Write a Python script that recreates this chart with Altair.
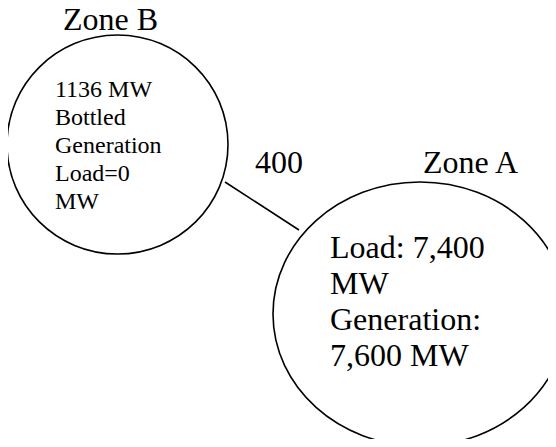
import altair as alt
import pandas as pd

# Zones (ellipse centres, in picture pixels)
zone_names = ["Zone B", "Zone A"]
zone_cx = [117.5, 420]
zone_cy = [144.5, 314]

# Big labels
label_text = ["Zone B", "Zone A", "400"]
label_x = [63, 423, 255]
label_y = [30, 173, 173]

# Zone B inner text
b_lines = ["1136 MW", "Bottled", "Generation", "Load=0", "MW"]
b_x = [55, 55, 55, 55, 55]
b_y = [97, 125, 153, 181, 209]

# Zone A inner text
a_lines = ["Load: 7,400", "MW", "Generation:", "7,600 MW"]
a_x = [330, 330, 330, 330]
a_y = [258, 294, 330, 366]

# Tie line between zones
link_x = [225, 299]
link_y = [182, 230]

X = alt.Scale(domain=[8, 548], nice=False, zero=False)
Y = alt.Scale(domain=[8, 439], reverse=True, nice=False, zero=False)
FONT = "Liberation Serif, Times New Roman, serif"


def ellipse_path(r):
    """Unit ellipse outline (x radius 1, y radius r) drawn with cubic Beziers."""
    k = 0.5523
    kr = k * r
    return (
        f"M 1 0 C 1 {kr:.4f} {k} {r:.4f} 0 {r:.4f} "
        f"C {-k} {r:.4f} -1 {kr:.4f} -1 0 "
        f"C -1 {-kr:.4f} {-k} {-r:.4f} 0 {-r:.4f} "
        f"C {k} {-r:.4f} 1 {-kr:.4f} 1 0 Z"
    )


def xy(xf, yf):
    return dict(
        x=alt.X(xf, type="quantitative", scale=X, axis=None),
        y=alt.Y(yf, type="quantitative", scale=Y, axis=None),
    )


zones = pd.DataFrame({"zone": zone_names, "cx": zone_cx, "cy": zone_cy})

zone_b = alt.Chart(zones[zones.zone == "Zone B"]).mark_point(
    shape=ellipse_path(109.5 / 110.5),
    size=221 * 221, filled=False, stroke="black", strokeWidth=1.6, opacity=1,
).encode(**xy("cx", "cy"))

zone_a = alt.Chart(zones[zones.zone == "Zone A"]).mark_point(
    shape=ellipse_path(132 / 147),
    size=294 * 294, filled=False, stroke="black", strokeWidth=1.6, opacity=1,
).encode(**xy("cx", "cy"))

link = alt.Chart(pd.DataFrame({
    "x": [link_x[0]], "y": [link_y[0]], "x2": [link_x[1]], "y2": [link_y[1]]
})).mark_rule(color="black", strokeWidth=1.6).encode(
    **xy("x", "y"), x2="x2:Q", y2="y2:Q"
)

labels = alt.Chart(pd.DataFrame({"t": label_text, "x": label_x, "y": label_y})).mark_text(
    font=FONT, fontSize=32, align="left", baseline="alphabetic", color="black"
).encode(**xy("x", "y"), text="t:N")

btext = alt.Chart(pd.DataFrame({"t": b_lines, "x": b_x, "y": b_y})).mark_text(
    font=FONT, fontSize=24, align="left", baseline="alphabetic", color="black"
).encode(**xy("x", "y"), text="t:N")

atext = alt.Chart(pd.DataFrame({"t": a_lines, "x": a_x, "y": a_y})).mark_text(
    font=FONT, fontSize=32, align="left", baseline="alphabetic", color="black"
).encode(**xy("x", "y"), text="t:N")

chart = alt.layer(zone_b, zone_a, link, labels, btext, atext).properties(
    width=540, height=431, padding=0,
    autosize=alt.AutoSizeParams(type="none"),
    background="white",
).configure_view(stroke=None)

chart.save("out.html", embed_options={"renderer": "svg", "actions": False})
